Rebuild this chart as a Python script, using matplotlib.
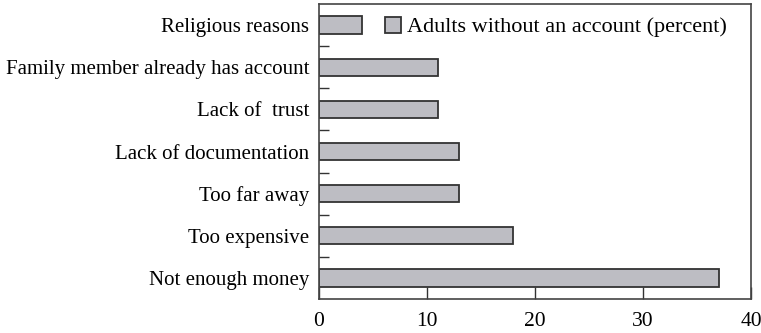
import numpy as np
import matplotlib
matplotlib.use('Agg')
import matplotlib.pyplot as plt
from matplotlib.ticker import FixedLocator

###data, bottom to top###
reasons = ['Not enough money', 'Too expensive', 'Too far away', 'Lack of documentation',
           'Lack of  trust', 'Family member already has account', 'Religious reasons']
percent = [37, 18, 13, 13, 11, 11, 4]
xticks = [0, 10, 20, 30, 40]

plt.rcParams['font.family'] = ['Liberation Serif', 'DejaVu Serif']

fig = plt.figure(figsize=(7.61, 3.33), dpi=100)
ax = fig.add_axes([0.419, 0.102, 0.568, 0.886])

y = np.arange(len(reasons))
ax.barh(y, percent, height=0.41, color='#bdbdc3', edgecolor='#333333', linewidth=1.3,
        label='Adults without an account (percent)')

ax.set_xlim(0, 40)
ax.set_ylim(-0.5, len(reasons) - 0.5)
ax.set_xticks(xticks)
ax.set_yticks(y)
ax.set_yticklabels(reasons)
ax.yaxis.set_minor_locator(FixedLocator(y[:-1] + 0.5))

ax.tick_params(axis='y', which='major', length=0, pad=7, labelsize=15)
ax.tick_params(axis='y', which='minor', length=7, direction='in', width=1, color='#333333')
ax.tick_params(axis='x', which='major', length=9, direction='in', width=1, color='#333333',
               pad=9, labelsize=15.5)

for s in ax.spines.values():
    s.set_color('#444444')
    s.set_linewidth(1.2)

leg = ax.legend(loc='center left', bbox_to_anchor=(0.152, 0.922), frameon=False,
                fontsize=16, handlelength=0.72, handleheight=0.72, handletextpad=0.3,
                borderpad=0, borderaxespad=0)

fig.savefig('out.png', dpi=100)
